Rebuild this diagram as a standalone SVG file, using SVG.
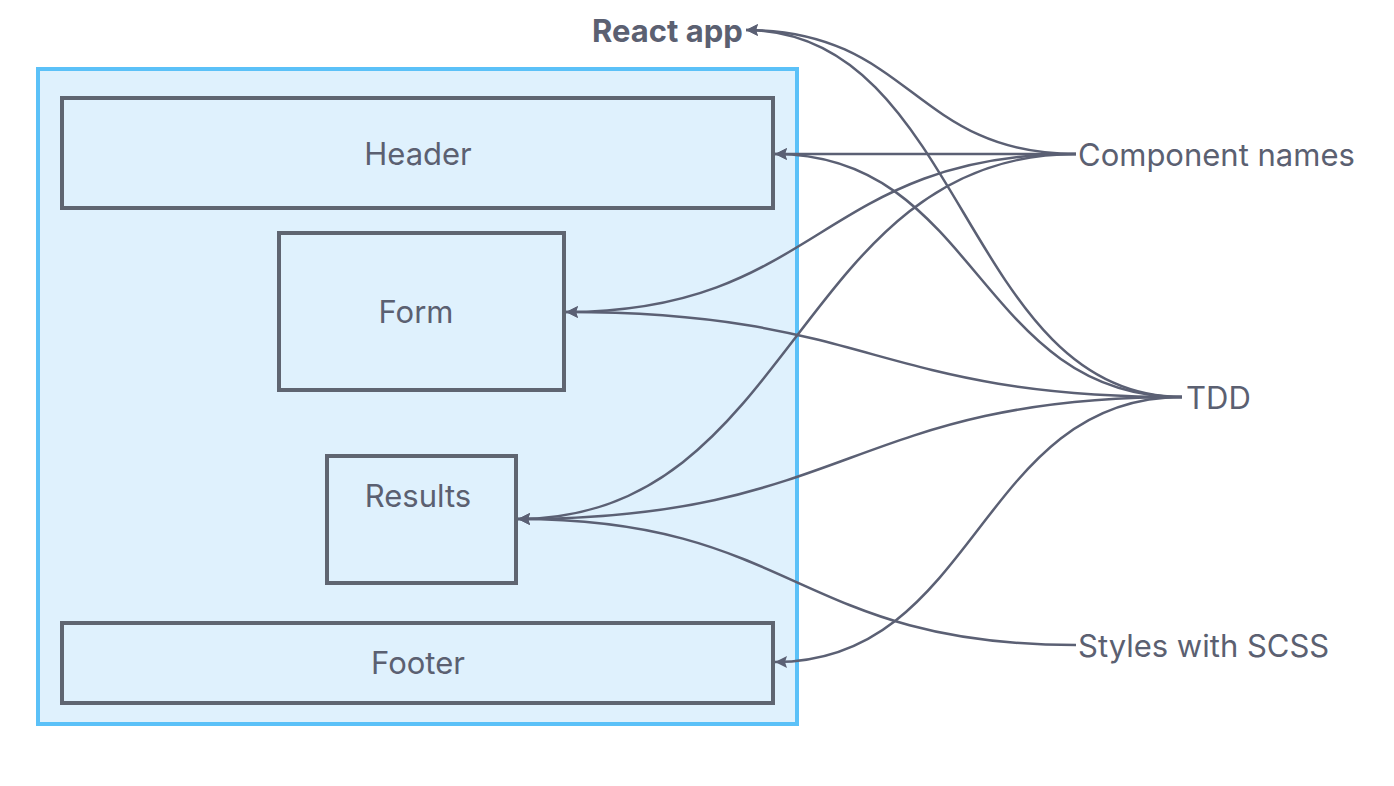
<svg xmlns="http://www.w3.org/2000/svg" width="1394" height="786" viewBox="0 0 1394 786">
<style>
.box{fill:none;stroke:#5f6571;stroke-width:4}
.lbl{font-family:Inter,"Noto Sans",sans-serif;font-size:31px;fill:#5b6071}
.c{text-anchor:middle}
.edge{fill:none;stroke:#5b6074;stroke-width:2.5}
</style>
<defs>
<marker id="ah" viewBox="0 0 12 12" refX="12" refY="6" markerWidth="12" markerHeight="12" markerUnits="userSpaceOnUse" orient="auto">
<path d="M0,0 L12,6 L0,12 L2,6 z" fill="#5b6074"/>
</marker>
</defs>
<rect width="1394" height="786" fill="#ffffff"/>
<g id="react-app">
<rect x="38" y="69" width="759" height="655" fill="#dff1fd" stroke="#5bc1f8" stroke-width="4"/>
<text class="lbl" x="592" y="42" font-weight="bold">React app</text>
</g>
<g id="header">
<rect class="box" x="62" y="98" width="711" height="110"/>
<text class="lbl c" x="418" y="165">Header</text>
</g>
<g id="form">
<rect class="box" x="279" y="233" width="285" height="157"/>
<text class="lbl c" x="416" y="323">Form</text>
</g>
<g id="results">
<rect class="box" x="327" y="456" width="189" height="127"/>
<text class="lbl c" x="418" y="507">Results</text>
</g>
<g id="footer">
<rect class="box" x="62" y="623" width="711" height="80"/>
<text class="lbl c" x="418" y="674">Footer</text>
</g>
<g id="component-names">
<text class="lbl" x="1078" y="166">Component names</text>
</g>
<g id="tdd">
<text class="lbl" x="1186" y="409">TDD</text>
</g>
<g id="styles">
<text class="lbl" x="1078" y="657">Styles with SCSS</text>
</g>
<g id="connectors">
<path class="edge" marker-end="url(#ah)" d="M1076,154 C912,154 912,30 746,30"/>
<path class="edge" marker-end="url(#ah)" d="M1076,154 L775,154"/>
<path class="edge" marker-end="url(#ah)" d="M1076,154 C820,154 820,312 566,312"/>
<path class="edge" marker-end="url(#ah)" d="M1076,154 C796,154 796,519 518,519"/>
<path class="edge" marker-end="url(#ah)" d="M1182,397 C964,397 964,30 746,30"/>
<path class="edge" marker-end="url(#ah)" d="M1182,397 C978,397 978,154 775,154"/>
<path class="edge" marker-end="url(#ah)" d="M1182,397 C873,397 873,312 566,312"/>
<path class="edge" marker-end="url(#ah)" d="M1182,397 C850,397 850,519 518,519"/>
<path class="edge" marker-end="url(#ah)" d="M1182,397 C978,397 978,662 775,662"/>
<path class="edge" marker-end="url(#ah)" d="M1076,645 C796,645 796,519 518,519"/>
</g>
</svg>
